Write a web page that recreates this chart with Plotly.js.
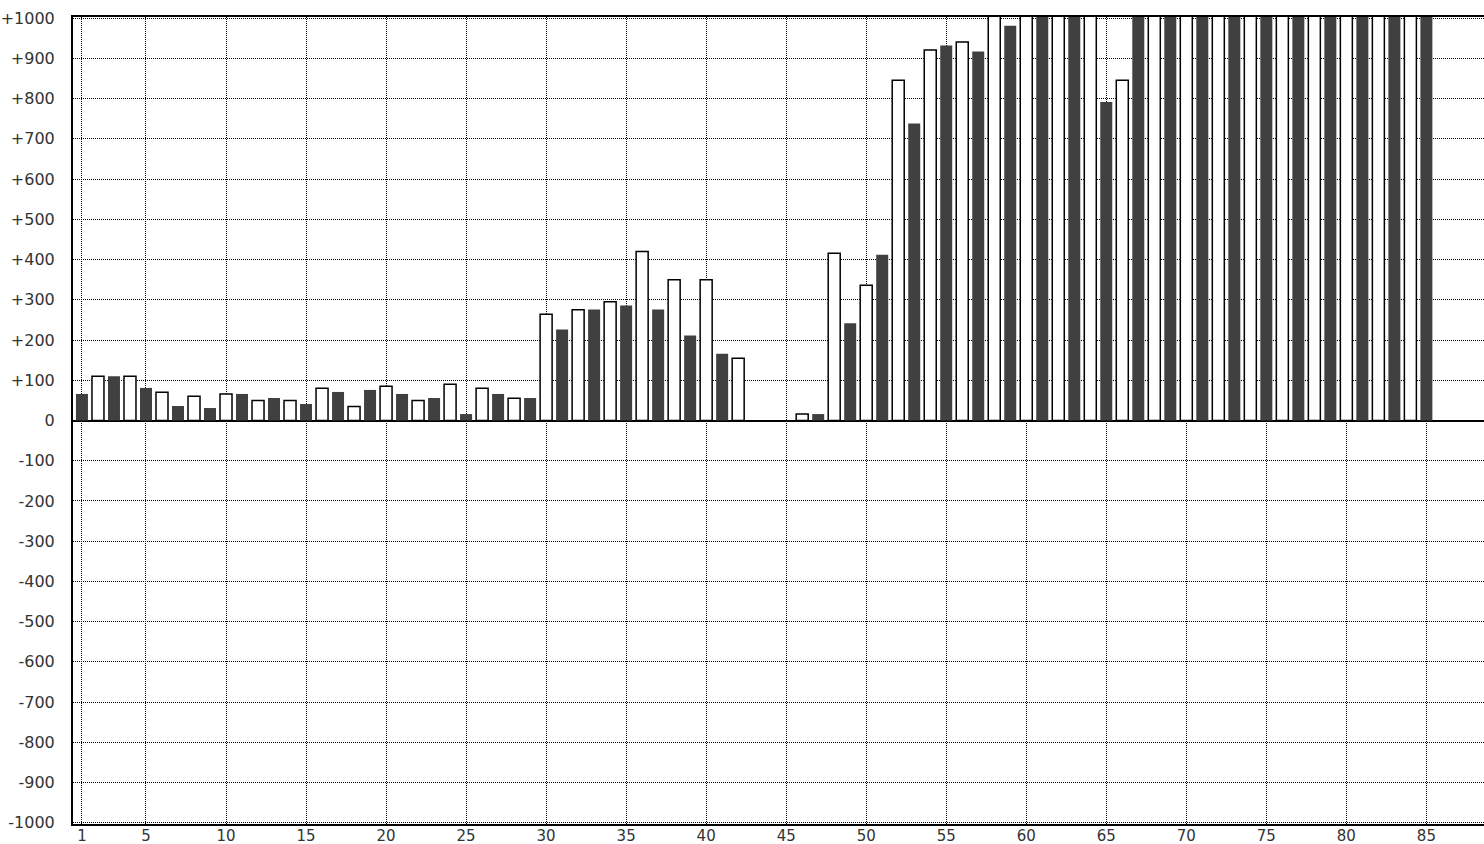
<!DOCTYPE html>
<html>
<head>
<meta charset="utf-8">
<script src="https://cdn.plot.ly/plotly-3.0.1.min.js"></script>
<style>
html,body{margin:0;padding:0;background:#fff;overflow:hidden;}
#chart{width:1484px;height:844px;}
</style>
</head>
<body>
<div id="chart"></div>
<script>
// Dark bars sit on the odd positions, white (outlined) bars on the even positions.
// Values above 1000 run off the top of the chart (clipped), read as 1100.
var darkX = [1,3,5,7,9,11,13,15,17,19,21,23,25,27,29,31,33,35,37,39,41,43,45,47,49,51,53,55,57,59,61,63,65,67,69,71,73,75,77,79,81,83,85];
var darkValues = [66,110,81,36,31,66,56,41,71,76,66,56,16,66,56,226,276,286,276,211,166,null,null,16,242,412,738,932,917,981,1100,1100,792,1100,1100,1100,1100,1100,1100,1100,1100,1100,1100];

var whiteX = [2,4,6,8,10,12,14,16,18,20,22,24,26,28,30,32,34,36,38,40,42,44,46,48,50,52,54,56,58,60,62,64,66,68,70,72,74,76,78,80,82,84];
var whiteValues = [110,110,70,60,66,50,50,80,35,85,50,90,80,55,264,275,295,420,350,350,155,null,16,416,336,846,921,941,1100,1100,1100,1100,846,1100,1100,1100,1100,1100,1100,1100,1100,1100];

var xTickVals = [1,5,10,15,20,25,30,35,40,45,50,55,60,65,70,75,80,85];
var xTickText = ["1","5","10","15","20","25","30","35","40","45","50","55","60","65","70","75","80","85"];
var yTickVals = [-1000,-900,-800,-700,-600,-500,-400,-300,-200,-100,0,100,200,300,400,500,600,700,800,900,1000];
var yTickText = ["-1000","-900","-800","-700","-600","-500","-400","-300","-200","-100","0","+100","+200","+300","+400","+500","+600","+700","+800","+900","+1000"];

var traces = [
  {type:'bar', x:darkX, y:darkValues, width:0.75,
   marker:{color:'#404040', line:{width:0}}, hoverinfo:'x+y'},
  {type:'bar', x:whiteX, y:whiteValues, width:0.75,
   marker:{color:'#ffffff', line:{color:'#000000', width:1.5}}, hoverinfo:'x+y'}
];

var yFont = {family:'"DejaVu Sans", Verdana, sans-serif', size:16, color:'#333333'};
var xFont = {family:'"DejaVu Sans", Verdana, sans-serif', size:15, color:'#333333'};

var layout = {
  width:1484, height:844,
  margin:{l:73, r:0, t:17, b:20, pad:0},
  paper_bgcolor:'#ffffff', plot_bgcolor:'#ffffff',
  showlegend:false,
  barmode:'overlay',
  font:yFont,
  xaxis:{
    range:[0.44, 88.6],
    tickmode:'array', tickvals:xTickVals, ticktext:xTickText,
    showgrid:true, gridcolor:'#000000', gridwidth:1, griddash:'1px,1px',
    showline:true, linecolor:'#000000', linewidth:2, mirror:true,
    zeroline:false, ticks:'', ticklabelstandoff:-3,
    tickfont:xFont, fixedrange:true
  },
  yaxis:{
    range:[-1003, 1003],
    tickmode:'array', tickvals:yTickVals, ticktext:yTickText,
    showgrid:true, gridcolor:'#000000', gridwidth:1, griddash:'1px,1px',
    showline:true, linecolor:'#000000', linewidth:2,
    zeroline:true, zerolinecolor:'#000000', zerolinewidth:2,
    ticks:'', ticklabelstandoff:13,
    tickfont:yFont, fixedrange:true
  }
};

Plotly.newPlot('chart', traces, layout, {displayModeBar:false, staticPlot:true});
</script>
</body>
</html>
